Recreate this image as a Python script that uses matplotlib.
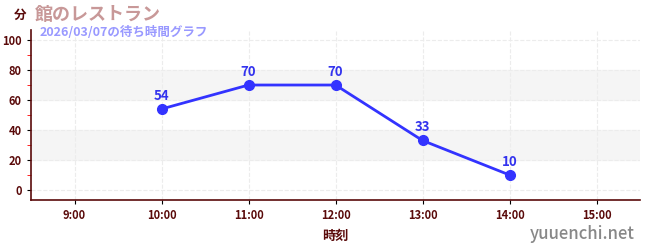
import matplotlib.pyplot as plt

plt.rcParams['font.family'] = ['Noto Sans CJK JP', 'DejaVu Sans']

hours = [10, 11, 12, 13, 14]
waits = [54, 70, 70, 33, 10]
xticks = [9, 10, 11, 12, 13, 14, 15]
xlabels = ['9:00', '10:00', '11:00', '12:00', '13:00', '14:00', '15:00']
yticks = [0, 20, 40, 60, 80, 100]

dark = '#5a0a0a'

fig = plt.figure(figsize=(6.5, 2.5), dpi=100)
ax = fig.add_axes([31 / 650, 50 / 250, 609 / 650, 170 / 250])

for lo, hi in [(20, 40), (60, 80)]:
    ax.axhspan(lo, hi, color='#f5f5f5', zorder=0)

ax.plot(hours, waits, color='#3333ff', lw=2, marker='o', ms=7, zorder=3)
for h, w in zip(hours, waits):
    ax.text(h, w + 4, str(w), color='#3333ee', fontsize=9.5, fontweight='bold',
            ha='center', va='bottom', zorder=4)

ax.set_xlim(8.5, 15.5)
ax.set_ylim(-6.7, 106.7)
ax.set_xticks(xticks)
ax.set_xticklabels(xlabels)
ax.set_yticks(yticks)
ax.set_yticks([10, 30, 50, 70, 90], minor=True)
ax.tick_params(axis='both', labelsize=8, length=3, colors='black')
ax.tick_params(axis='y', which='minor', length=3, color='red')
for lab in ax.get_xticklabels() + ax.get_yticklabels():
    lab.set_color(dark)
    lab.set_fontweight('bold')
ax.grid(True, color='#ececec', ls='--', lw=0.8)
ax.set_axisbelow(True)

for s in ['top', 'right']:
    ax.spines[s].set_visible(False)
for s in ['left', 'bottom']:
    ax.spines[s].set_color(dark)
    ax.spines[s].set_linewidth(1.2)

ax.set_xlabel('時刻', color=dark, fontsize=9.5, fontweight='bold', labelpad=5)

fig.text(14 / 650, 1 - 15 / 250, '分', color=dark, fontsize=9, fontweight='bold', va='center')
fig.text(35 / 650, 1 - 14 / 250, '館のレストラン', color='#c89898', fontsize=13,
         fontweight='bold', va='center')
fig.text(40 / 650, 1 - 32 / 250, '2026/03/07の待ち時間グラフ', color='#9999ff', fontsize=9,
         fontweight='bold', va='center')
fig.text(635 / 650, 1 - 234 / 250, 'yuuenchi.net', color='#888888', fontsize=12,
         fontweight='medium', ha='right', va='center')

fig.savefig('out.png', dpi=100)
